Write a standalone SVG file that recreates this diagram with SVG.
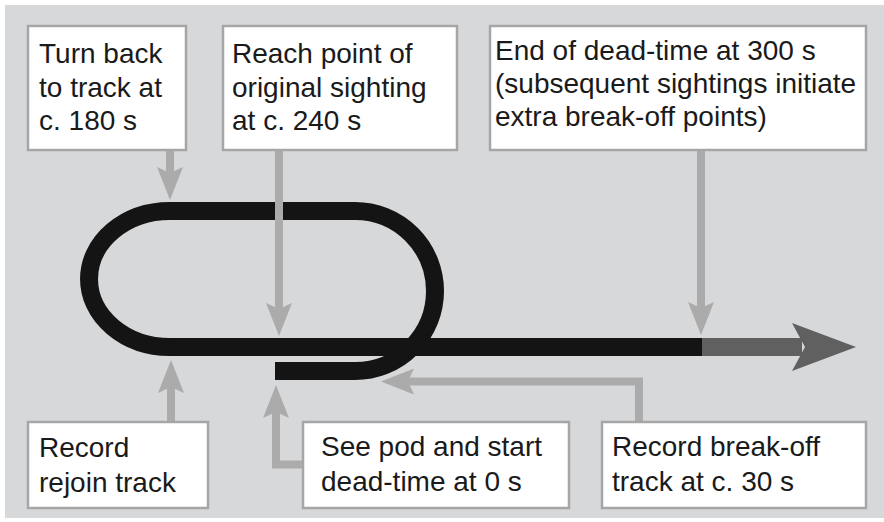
<svg xmlns="http://www.w3.org/2000/svg" width="884" height="522" viewBox="0 0 884 522">
<style>
.box{fill:#ffffff;stroke:#a6a6a6;stroke-width:2.5}
.lbl{font-family:"Liberation Sans",Arial,sans-serif;font-size:28px;fill:#1a1a1a}
.conn{fill:none;stroke:#ababab;stroke-width:8;stroke-linejoin:miter}
.track{fill:none;stroke:#141414;stroke-width:18;stroke-linecap:butt}
</style>
<defs>
<marker id="ah" markerUnits="userSpaceOnUse" viewBox="-10 -15 40 30" markerWidth="40" markerHeight="30" refX="0" refY="0" orient="auto" overflow="visible">
<path d="M27,0 L-6,-13 L0,0 L-6,13 Z" fill="#ababab"/>
</marker>
</defs>
<rect x="5" y="5" width="879" height="513" fill="#d7d8da"/>
<g id="track">
<path class="track" d="M275,371 H355 A80,80 0 0 0 355,211 H170 A81,68 0 0 0 170,347 H703"/>
<path d="M702,347 H802" fill="none" stroke="#606060" stroke-width="18"/>
<path d="M792,323 L856,347 L792,371 L805,347 Z" fill="#606060"/>
</g>
<g id="connectors">
<path class="conn" d="M170,150 V173" marker-end="url(#ah)"/>
<path class="conn" d="M279,150 V309" marker-end="url(#ah)"/>
<path class="conn" d="M701,150 V308" marker-end="url(#ah)"/>
<path class="conn" d="M171,422 V387" marker-end="url(#ah)"/>
<path class="conn" d="M303,464.5 H276 V412" marker-end="url(#ah)"/>
<path class="conn" d="M639,422 V381.5 H408" marker-end="url(#ah)"/>
</g>
<g id="n1">
<rect class="box" x="28" y="26" width="158" height="124"/>
<text class="lbl" x="39" y="63">Turn back</text>
<text class="lbl" x="39" y="96.5">to track at</text>
<text class="lbl" x="39" y="130">c. 180 s</text>
</g>
<g id="n2">
<rect class="box" x="223" y="26" width="234" height="124"/>
<text class="lbl" x="232" y="63">Reach point of</text>
<text class="lbl" x="232" y="96.5">original sighting</text>
<text class="lbl" x="232" y="130">at c. 240 s</text>
</g>
<g id="n3">
<rect class="box" x="490" y="26" width="376" height="124"/>
<text class="lbl" x="495" y="60">End of dead-time at 300 s</text>
<text class="lbl" x="495" y="93">(subsequent sightings initiate</text>
<text class="lbl" x="495" y="126">extra break-off points)</text>
</g>
<g id="n4">
<rect class="box" x="28" y="422" width="180" height="86"/>
<text class="lbl" x="39" y="457">Record</text>
<text class="lbl" x="39" y="492">rejoin track</text>
</g>
<g id="n5">
<rect class="box" x="303" y="422" width="266" height="86"/>
<text class="lbl" x="321" y="456">See pod and start</text>
<text class="lbl" x="321" y="491">dead-time at 0 s</text>
</g>
<g id="n6">
<rect class="box" x="602" y="422" width="264" height="86"/>
<text class="lbl" x="612" y="456">Record break-off</text>
<text class="lbl" x="612" y="491">track at c. 30 s</text>
</g>
</svg>
